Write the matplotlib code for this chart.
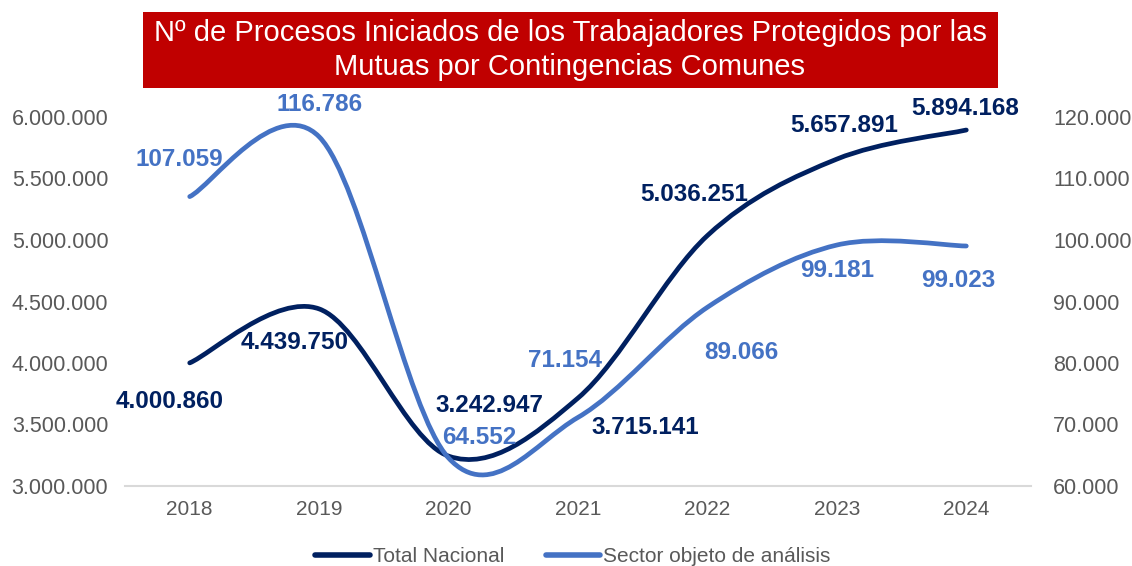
import matplotlib
matplotlib.use("Agg")
import matplotlib.pyplot as plt
from matplotlib.path import Path
from matplotlib.patches import PathPatch, Rectangle
from matplotlib.lines import Line2D
from matplotlib.ticker import FuncFormatter, MultipleLocator

plt.rcParams['font.family'] = ['Liberation Sans', 'DejaVu Sans']

years = ['2018', '2019', '2020', '2021', '2022', '2023', '2024']
total_nacional = [4000860, 4439750, 3242947, 3715141, 5036251, 5657891, 5894168]
sector = [107059, 116786, 64552, 71154, 89066, 99181, 99023]
title = "Nº de Procesos Iniciados de los Trabajadores Protegidos por las\nMutuas por Contingencias Comunes"
series_names = ['Total Nacional', 'Sector objeto de análisis']

DARK = '#002060'
BLUE = '#4472C4'
GREY = '#595959'

# label offsets in pixels (dx, dy with dy positive downward)
dark_off = [(-20, 39), (-25, 34), (41, -51), (67, 29), (-13, -41), (7, -34), (-1, -22)]
blue_off = [(-10, -37), (0, -32), (31, -21), (-13, -57), (34, 45), (0, 25), (-8, 34)]


def smooth_path(xs, ys):
    pts = list(zip(xs, ys))
    n = len(pts)
    verts = [pts[0]]
    codes = [Path.MOVETO]
    for i in range(n - 1):
        p0 = pts[i - 1] if i > 0 else pts[i]
        p1 = pts[i]
        p2 = pts[i + 1]
        p3 = pts[i + 2] if i + 2 < n else pts[i + 1]
        c1 = (p1[0] + (p2[0] - p0[0]) / 6, p1[1] + (p2[1] - p0[1]) / 6)
        c2 = (p2[0] - (p3[0] - p1[0]) / 6, p2[1] - (p3[1] - p1[1]) / 6)
        verts += [c1, c2, p2]
        codes += [Path.CURVE4] * 3
    return Path(verts, codes)


def fmt(v, pos=None):
    return f"{v:,.0f}".replace(',', '.')


fig = plt.figure(figsize=(11.32, 5.66), dpi=100)
ax = fig.add_axes([125 / 1132, 80 / 566, 906 / 1132, 369 / 566])
ax2 = ax.twinx()

x = list(range(len(years)))
ax.add_patch(PathPatch(smooth_path(x, total_nacional), fill=False, edgecolor=DARK,
                       lw=3.4, capstyle='round', joinstyle='round'))
ax2.add_patch(PathPatch(smooth_path(x, sector), fill=False, edgecolor=BLUE,
                        lw=3.4, capstyle='round', joinstyle='round'))

ax.set_xlim(-0.5, len(years) - 0.5)
ax.set_ylim(3000000, 6000000)
ax2.set_ylim(60000, 120000)
ax.yaxis.set_major_locator(MultipleLocator(500000))
ax2.yaxis.set_major_locator(MultipleLocator(10000))
ax.yaxis.set_major_formatter(FuncFormatter(fmt))
ax2.yaxis.set_major_formatter(FuncFormatter(fmt))
ax.set_xticks(x)
ax.set_xticklabels(years)

for a in (ax, ax2):
    for s in a.spines.values():
        s.set_visible(False)
ax.spines['bottom'].set_visible(True)
ax.spines['bottom'].set_color('#D9D9D9')
ax.spines['bottom'].set_linewidth(1.5)

ax.tick_params(axis='y', length=0, pad=12, labelsize=15.5, labelcolor=GREY)
ax2.tick_params(axis='y', length=0, pad=16, labelsize=15.5, labelcolor=GREY)
ax.tick_params(axis='x', length=0, pad=10, labelsize=15, labelcolor=GREY)

for i, v in enumerate(total_nacional):
    dx, dy = dark_off[i]
    ax2.annotate(fmt(v), xy=(i, v), xycoords=ax.transData,
                 xytext=(dx * 0.72, -dy * 0.72), textcoords='offset points',
                 ha='center', va='center', fontsize=17.5, fontweight='bold', color=DARK,
                 annotation_clip=False)
for i, v in enumerate(sector):
    dx, dy = blue_off[i]
    ax2.annotate(fmt(v), xy=(i, v), xycoords='data',
                 xytext=(dx * 0.72, -dy * 0.72), textcoords='offset points',
                 ha='center', va='center', fontsize=17.5, fontweight='bold', color=BLUE,
                 annotation_clip=False)

# title box
fig.patches.append(Rectangle((143 / 1132, 1 - 88 / 566), (998 - 143) / 1132, 76 / 566,
                             transform=fig.transFigure, facecolor='#C00000',
                             edgecolor='none', zorder=0))
fig.text(570 / 1132, 1 - 50 / 566, title, ha='center', va='center', color='white',
         fontsize=21, linespacing=1.25)

handles = [Line2D([], [], color=DARK, lw=4, solid_capstyle='round'),
           Line2D([], [], color=BLUE, lw=4, solid_capstyle='round')]
fig.legend(handles, series_names, loc='center', bbox_to_anchor=(573 / 1132, 1 - 557 / 566),
           ncol=2, frameon=False, fontsize=15, handlelength=2.6, handletextpad=0.15,
           columnspacing=2.0, labelcolor=GREY, borderaxespad=0, borderpad=0)

fig.savefig('out.png', dpi=100)
